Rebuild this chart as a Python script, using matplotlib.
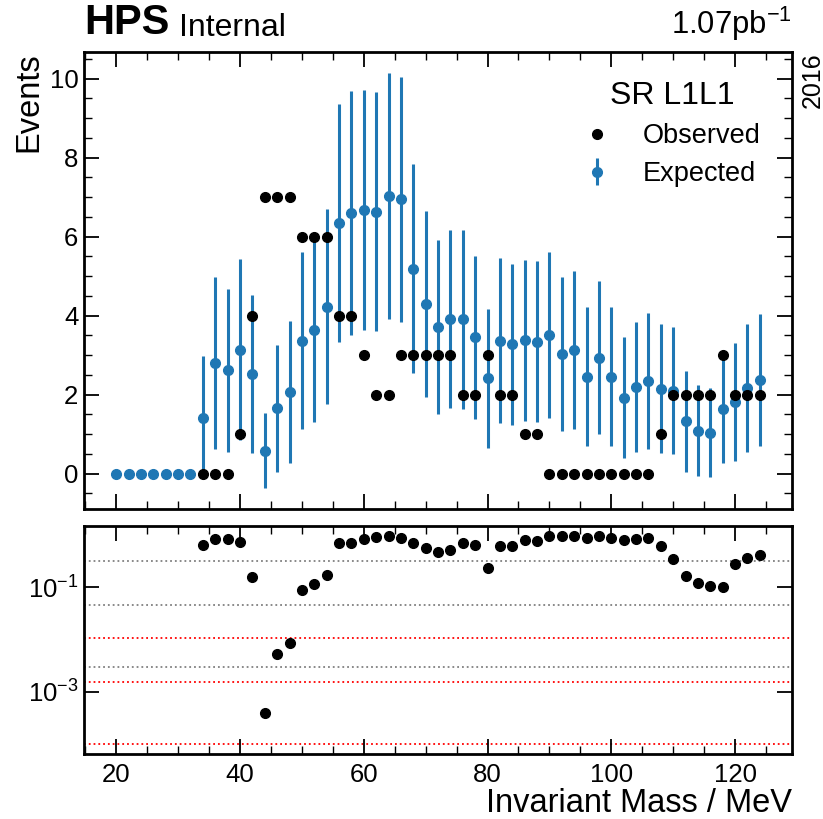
import matplotlib

matplotlib.use("Agg")
import matplotlib.pyplot as plt
from matplotlib.ticker import AutoMinorLocator, NullLocator, FixedLocator

plt.rcParams["font.family"] = ["Liberation Sans", "DejaVu Sans"]
plt.rcParams["mathtext.fontset"] = "custom"
plt.rcParams["mathtext.rm"] = "Liberation Sans"
plt.rcParams["mathtext.it"] = "Liberation Sans:italic"
plt.rcParams["mathtext.bf"] = "Liberation Sans:bold"

# invariant mass points (MeV)
mass = [20, 22, 24, 26, 28, 30, 32, 34, 36, 38, 40, 42, 44, 46, 48, 50, 52, 54,
        56, 58, 60, 62, 64, 66, 68, 70, 72, 74, 76, 78, 80, 82, 84, 86, 88, 90,
        92, 94, 96, 98, 100, 102, 104, 106, 108, 110, 112, 114, 116, 118, 120,
        122, 124]
expected = [0, 0, 0, 0, 0, 0, 0, 1.42, 2.80, 2.62, 3.14, 2.52, 0.58, 1.65, 2.07,
            3.37, 3.63, 4.23, 6.35, 6.60, 6.68, 6.63, 7.03, 6.95, 5.19, 4.30,
            3.72, 3.92, 3.91, 3.45, 2.41, 3.37, 3.27, 3.38, 3.34, 3.52, 3.02,
            3.14, 2.45, 2.94, 2.45, 1.92, 2.20, 2.35, 2.15, 2.10, 1.32, 1.09,
            1.04, 1.64, 1.81, 2.18, 2.37]
expected_err = [0, 0, 0, 0, 0, 0, 0, 1.55, 2.17, 2.06, 2.30, 2.01, 0.95, 1.60,
                1.79, 2.25, 2.32, 2.47, 3.01, 3.08, 3.04, 3.03, 3.12, 3.10, 2.64,
                2.36, 2.20, 2.25, 2.27, 2.07, 1.76, 2.08, 2.04, 2.04, 2.04, 2.10,
                1.95, 2.00, 1.76, 1.93, 1.76, 1.53, 1.65, 1.72, 1.64, 1.61, 1.28,
                1.16, 1.12, 1.38, 1.49, 1.62, 1.68]

# observed counts and local p-values (34-124 MeV)
obs_mass = mass[7:]
observed = [0, 0, 0, 1, 4, 7, 7, 7, 6, 6, 6, 4, 4, 3, 2, 2, 3, 3, 3, 3, 3, 2, 2,
            3, 2, 2, 1, 1, 0, 0, 0, 0, 0, 0, 0, 0, 0, 1, 2, 2, 2, 2, 3, 2, 2, 2]
pvalue = [0.64, 0.85, 0.84, 0.73, 0.16, 3.96e-4, 5.3e-3, 8.6e-3, 0.089, 0.116,
          0.172, 0.71, 0.72, 0.84, 0.93, 0.95, 0.88, 0.71, 0.58, 0.48, 0.525,
          0.71, 0.64, 0.23, 0.63, 0.61, 0.81, 0.79, 0.95, 0.95, 0.95, 0.88,
          0.95, 0.89, 0.81, 0.84, 0.89, 0.61, 0.353, 0.164, 0.119, 0.104, 0.10,
          0.28, 0.36, 0.42]

# reference lines: local (gray) and look-elsewhere corrected (red)
local_sigma = [0.3173, 0.0455, 0.0030]
global_sigma = [0.0106, 0.00152, 1.0e-4]

BLUE = "#1f77b4"
TICK = 18.5
LABEL = 23.5


def style_axis(ax):
    ax.tick_params(which="both", direction="in", top=True, right=True,
                   labelsize=TICK)
    ax.tick_params(which="major", length=10.5, width=1.3)
    ax.tick_params(which="minor", length=5.5, width=1.0)
    ax.tick_params(axis="x", pad=6)
    ax.tick_params(axis="y", pad=4)
    for spine in ax.spines.values():
        spine.set_linewidth(2.0)


fig = plt.figure(figsize=(8.23, 8.19), dpi=100)
ax = fig.add_axes([0.1021, 0.3785, 0.8603, 0.558])
rax = fig.add_axes([0.1021, 0.0790, 0.8603, 0.2788], sharex=ax)

exp_h = ax.errorbar(mass, expected, yerr=expected_err, fmt="o", color=BLUE,
                    markersize=7, elinewidth=2.2, capsize=0, zorder=2)
obs_h, = ax.plot(obs_mass, observed, "o", color="black", markersize=7,
                 zorder=3)
ax.set_ylabel("Events", loc="top", fontsize=LABEL)
ax.xaxis.set_minor_locator(AutoMinorLocator(4))
ax.yaxis.set_minor_locator(AutoMinorLocator(4))
style_axis(ax)
ax.tick_params(axis="x", labelbottom=False)

leg = ax.legend([obs_h, exp_h], ["Observed", "Expected"], title="SR L1L1",
                loc="upper right", bbox_to_anchor=(0.99, 0.99),
                frameon=False, fontsize=19.5, title_fontsize=23,
                handlelength=1.0, handletextpad=1.2, labelspacing=0.45)

hps = ax.text(0.0, 1.02, "HPS", transform=ax.transAxes, fontsize=30,
              fontweight="bold", va="bottom", ha="left")
ax.annotate("Internal", xy=(1, 0), xycoords=hps, xytext=(7, 0),
            textcoords="offset points", fontsize=23, va="bottom", ha="left")
ax.text(1.0, 1.02, "1.07pb$^{-1}$", transform=ax.transAxes, fontsize=22.3,
        va="bottom", ha="right")
ax.text(1.012, 1.0, "2016", transform=ax.transAxes, fontsize=18,
        rotation=90, va="top", ha="left")

for p in local_sigma:
    rax.axhline(p, color="gray", linestyle=":", linewidth=1.3, zorder=1)
for p in global_sigma:
    rax.axhline(p, color="red", linestyle=":", linewidth=1.3, zorder=1)
rax.plot(obs_mass, pvalue, "o", color="black", markersize=7, zorder=3)
rax.set_yscale("log")
rax.yaxis.set_major_locator(FixedLocator([1e-3, 1e-1]))
rax.yaxis.set_minor_locator(NullLocator())
rax.set_xlabel("Invariant Mass / MeV", loc="right", fontsize=LABEL,
               labelpad=1)
style_axis(rax)

fig.savefig("out.png", dpi=100)
